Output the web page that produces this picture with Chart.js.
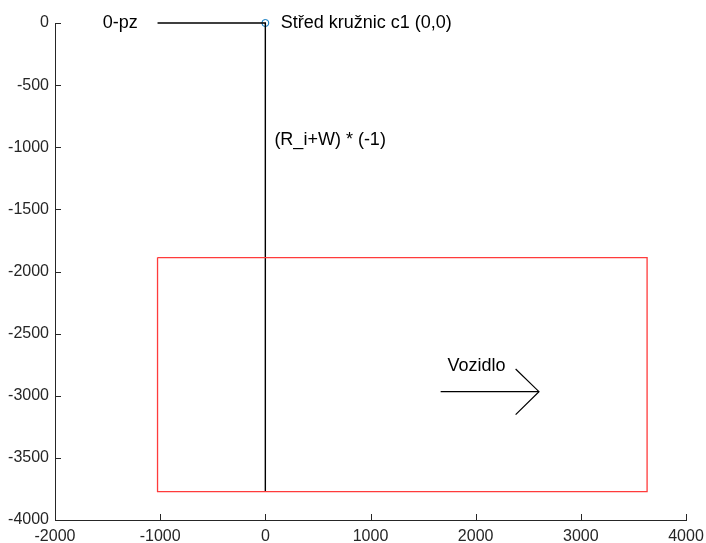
<!DOCTYPE html>
<html>
<head>
<meta charset="utf-8">
<script src="https://cdn.jsdelivr.net/npm/chart.js@4"></script>
<style>
  html, body { margin: 0; padding: 0; background: #fff; }
  #wrap { width: 706px; height: 543px; }
</style>
</head>
<body>
<div id="wrap"><canvas id="c" width="706" height="543"></canvas></div>
<script>
// Axis limits and tick positions
const xTicks = [-2000, -1000, 0, 1000, 2000, 3000, 4000];
const yTicks = [-4000, -3500, -3000, -2500, -2000, -1500, -1000, -500, 0];

// Vehicle outline (closed rectangle)
const vehicleX = [-1025, 3630, 3630, -1025, -1025];
const vehicleY = [-1888, -1888, -3771, -3771, -1888];

// Radius line from the circle centre: along y = 0, then straight down
const radiusX = [-1025, 0, 0];
const radiusY = [0, 0, -3771];

// Direction arrow (shaft and head)
const shaftX = [1667, 2602];
const shaftY = [-2967, -2967];
const headX = [2380, 2602, 2380];
const headY = [-2785, -2967, -3152];

// Circle centre marker
const centreX = [0];
const centreY = [0];

// Annotations
const noteText = ['0-pz', 'Střed kružnic c1 (0,0)', '(R_i+W) * (-1)', 'Vozidlo'];
const noteX = [-1545, 146, 86, 1733];
const noteY = [0, 0, -944, -2760];

const pts = (xs, ys) => xs.map((x, i) => ({ x, y: ys[i] }));

const axisColor = '#262626';
const fontFamily = '"Liberation Sans", Arial, sans-serif';

const lineSet = (data, color, width) => ({
  data, showLine: true, borderColor: color, backgroundColor: color,
  borderWidth: width, pointRadius: 0, pointHoverRadius: 0,
  fill: false, tension: 0, clip: false
});

// Inward ticks and text annotations
const extras = {
  id: 'extras',
  afterDatasetsDraw(chart) {
    const { ctx, scales: { x, y }, chartArea } = chart;
    ctx.save();
    ctx.strokeStyle = axisColor;
    ctx.lineWidth = 1;
    ctx.beginPath();
    xTicks.forEach(v => {
      const px = Math.round(x.getPixelForValue(v)) + 0.5;
      ctx.moveTo(px, chartArea.bottom);
      ctx.lineTo(px, chartArea.bottom - 6);
    });
    yTicks.forEach(v => {
      const py = Math.round(y.getPixelForValue(v)) + 0.5;
      ctx.moveTo(chartArea.left, py);
      ctx.lineTo(chartArea.left + 6, py);
    });
    ctx.stroke();

    ctx.fillStyle = '#000';
    ctx.font = '18px ' + fontFamily;
    ctx.textAlign = 'left';
    ctx.textBaseline = 'middle';
    noteText.forEach((t, i) => {
      ctx.fillText(t, x.getPixelForValue(noteX[i]), y.getPixelForValue(noteY[i]));
    });
    ctx.restore();
  }
};

new Chart(document.getElementById('c'), {
  type: 'scatter',
  data: {
    datasets: [
      lineSet(pts(vehicleX, vehicleY), '#ff3b3b', 1.3),
      lineSet(pts(radiusX, radiusY), '#000000', 1.4),
      lineSet(pts(shaftX, shaftY), '#000000', 1.2),
      lineSet(pts(headX, headY), '#000000', 1.2),
      {
        data: pts(centreX, centreY), showLine: false, clip: false,
        pointRadius: 3.5, pointBorderWidth: 1, pointHoverRadius: 3.5,
        pointBorderColor: '#0072BD', pointBackgroundColor: 'rgba(0,0,0,0)',
        borderColor: '#0072BD', backgroundColor: 'rgba(0,0,0,0)'
      }
    ]
  },
  options: {
    responsive: false,
    animation: false,
    events: [],
    layout: { padding: { left: 0, right: 20, top: 23, bottom: 0 } },
    plugins: { legend: { display: false }, tooltip: { enabled: false } },
    scales: {
      x: {
        type: 'linear', min: -2000, max: 4000,
        afterBuildTicks: s => { s.ticks = xTicks.map(v => ({ value: v })); },
        afterFit: s => { s.height = 23; s.paddingLeft = 0; s.paddingRight = 0; },
        grid: { display: false, drawTicks: false },
        border: { display: true, color: axisColor, width: 1 },
        ticks: {
          color: axisColor, padding: 7, maxRotation: 0, autoSkip: false,
          font: { family: fontFamily, size: 16 },
          callback: v => String(v)
        }
      },
      y: {
        type: 'linear', min: -4000, max: 0,
        afterBuildTicks: s => { s.ticks = yTicks.map(v => ({ value: v })); },
        afterFit: s => { s.width = 55; s.paddingTop = 0; s.paddingBottom = 0; },
        grid: { display: false, drawTicks: false },
        border: { display: true, color: axisColor, width: 1 },
        ticks: {
          color: axisColor, padding: 6, autoSkip: false,
          font: { family: fontFamily, size: 16 },
          callback: v => String(v)
        }
      }
    }
  },
  plugins: [extras]
});
</script>
</body>
</html>
